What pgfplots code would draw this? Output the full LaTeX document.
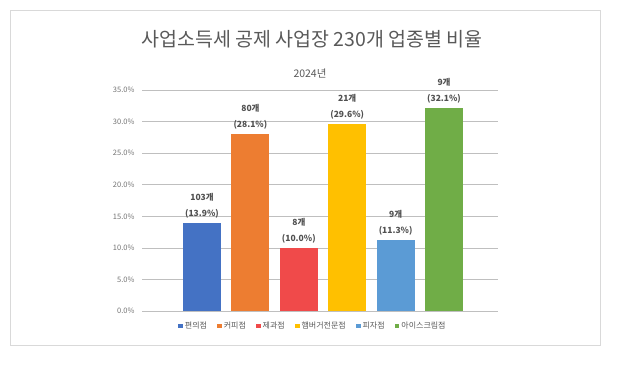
\documentclass[border=0pt]{standalone}
\usepackage{fontspec}
\setmainfont{Noto Sans CJK KR}
\usepackage{pgfplots}
\pgfplotsset{compat=1.18}
\definecolor{cBlue}{HTML}{4472C4}
\definecolor{cOrange}{HTML}{ED7D31}
\definecolor{cRed}{HTML}{F04A4A}
\definecolor{cYellow}{HTML}{FFC000}
\definecolor{cLBlue}{HTML}{5B9BD5}
\definecolor{cGreen}{HTML}{70AD47}
\definecolor{txt}{HTML}{595959}
\definecolor{grid}{HTML}{E3E3E3}
\definecolor{frame}{HTML}{D9D9D9}
\begin{document}
\begin{tikzpicture}[x=1pt,y=1pt]
\path[use as bounding box] (0,0) rectangle (641,382);
\draw[frame, line width=1pt] (10,36.5) rectangle (600.5,371);
\node[text=txt, font=\fontsize{19.5}{22}\selectfont] at (312,343) {사업소득세 공제 사업장 230개 업종별 비율};
\node[text=txt, font=\fontsize{10.5}{12}\selectfont] at (310,309) {2024년};
\begin{axis}[
  at={(142pt,71pt)}, anchor=south west,
  width=356pt, height=221pt, scale only axis,
  xmin=-1.24, xmax=6.115, ymin=0, ymax=35,
  axis line style={draw=none},
  xtick=\empty,
  ytick distance=5,
  major tick length=0pt,
  ymajorgrids, grid style={grid, line width=0.7pt},
  /pgf/number format/assume math mode=true,
  yticklabel={\pgfmathprintnumber[fixed,fixed zerofill,precision=1]{\tick}\%},
  yticklabel style={font=\fontsize{7.5}{9}\selectfont, text=txt!85, xshift=-4pt},
  legend columns=6,
  legend style={draw=none, fill=none, at={(0.48,-0.068)}, anchor=center,
    font=\fontsize{8}{9}\selectfont, text=txt,
    /tikz/every even column/.append style={column sep=8pt}},
  legend image code/.code={\fill[#1] (0pt,-2.4pt) rectangle (4.8pt,2.4pt);},
  nodes near coords style={font=\bfseries\fontsize{8.5}{16}\selectfont, text=txt!90!black, align=center, anchor=south, inner sep=0pt, yshift=4.5pt},
]
\addplot[ybar, bar width=38pt, bar shift=0pt, fill=cBlue, draw=none, nodes near coords={103개\\(13.9\%)}] coordinates {(0,13.9)};
\addlegendentry{편의점}
\addplot[ybar, bar width=38pt, bar shift=0pt, fill=cOrange, draw=none, nodes near coords={80개\\(28.1\%)}] coordinates {(1,28.1)};
\addlegendentry{커피점}
\addplot[ybar, bar width=38pt, bar shift=0pt, fill=cRed, draw=none, nodes near coords={8개\\(10.0\%)}] coordinates {(2,10.0)};
\addlegendentry{제과점}
\addplot[ybar, bar width=38pt, bar shift=0pt, fill=cYellow, draw=none, nodes near coords={21개\\(29.6\%)}] coordinates {(3,29.6)};
\addlegendentry{햄버거전문점}
\addplot[ybar, bar width=38pt, bar shift=0pt, fill=cLBlue, draw=none, nodes near coords={9개\\(11.3\%)}] coordinates {(4,11.3)};
\addlegendentry{피자점}
\addplot[ybar, bar width=38pt, bar shift=0pt, fill=cGreen, draw=none, nodes near coords={9개\\(32.1\%)}] coordinates {(5,32.1)};
\addlegendentry{아이스크림점}
\end{axis}
\end{tikzpicture}
\end{document}
